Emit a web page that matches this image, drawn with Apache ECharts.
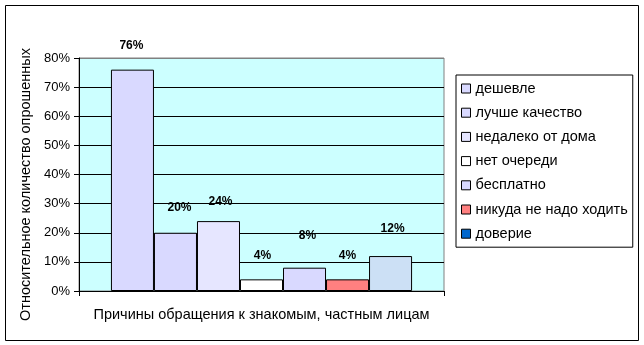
<!DOCTYPE html>
<html>
<head>
<meta charset="utf-8">
<script src="https://cdn.jsdelivr.net/npm/echarts@6/dist/echarts.min.js"></script>
<style>
html,body{margin:0;padding:0;background:#fff;}
#c{width:644px;height:345px;}
</style>
</head>
<body>
<div id="c"></div>
<script>
// Data
const categories = ['Причины обращения к знакомым, частным лицам'];
const seriesNames = ['дешевле', 'лучше качество', 'недалеко от дома', 'нет очереди', 'бесплатно', 'никуда не надо ходить', 'доверие'];
const seriesValues = [76, 20, 24, 4, 8, 4, 12];
const yTicks = [0, 10, 20, 30, 40, 50, 60, 70, 80];
const yAxisTitle = 'Относительное количество опрошенных';

// Styles
const barColors = ['#D9D9FF', '#D9D9FF', '#E6E6FF', '#FFFFFF', '#D9D9FF', '#FF8080', '#CCE0F5'];
const legendColors = ['#D9D9FF', '#D9D9FF', '#E6E6FF', '#FFFFFF', '#D9D9FF', '#FF8080', '#0066CC'];
const labelOffsets = [[-1, -18], [4, -19], [2, -13], [1, -18], [3, -26], [0, -18], [2, -21]];

const FONT = "'Liberation Sans', Arial, sans-serif";
const chart = echarts.init(document.getElementById('c'), null, {renderer: 'canvas'});

const splitColors = yTicks.map((t, i) => i === yTicks.length - 1 ? '#808080' : '#000000');

const option = {
  backgroundColor: '#ffffff',
  animation: false,
  textStyle: {fontFamily: FONT},
  graphic: [{
    type: 'rect', silent: true, z: 100,
    shape: {x: 5.5, y: 5.5, width: 633, height: 335},
    style: {fill: 'none', stroke: '#000', lineWidth: 1}
  }],
  grid: {
    left: 79, top: 58, width: 365, height: 233,
    show: true, backgroundColor: '#CCFFFF', borderColor: '#808080', borderWidth: 1
  },
  legend: {
    orient: 'vertical', left: 456, top: 75,
    backgroundColor: '#fff', borderColor: '#000', borderWidth: 1,
    padding: [6, 5, 6, 5],
    itemWidth: 9, itemHeight: 9, itemGap: 9.2,
    icon: 'rect',
    itemStyle: {borderColor: '#000', borderWidth: 1},
    textStyle: {fontFamily: FONT, fontSize: 14.5, color: '#000', lineHeight: 15},
    data: seriesNames.map((n, i) => ({name: n, itemStyle: {color: legendColors[i], borderColor: '#000', borderWidth: 1}}))
  },
  xAxis: {
    type: 'category', data: categories,
    axisLine: {lineStyle: {color: '#000', width: 1}},
    axisTick: {show: true, length: 5, lineStyle: {color: '#000'}},
    axisLabel: {show: false},
    name: categories[0], nameLocation: 'middle', nameGap: 16,
    nameTextStyle: {fontFamily: FONT, fontSize: 14.5, color: '#000'}
  },
  yAxis: {
    type: 'value', min: 0, max: 80, interval: 10,
    axisLine: {show: true, lineStyle: {color: '#000', width: 1}},
    axisTick: {show: true, length: 5, lineStyle: {color: '#000'}},
    axisLabel: {formatter: '{value}%', fontFamily: FONT, fontSize: 13, color: '#000', margin: 9},
    splitLine: {show: true, lineStyle: {color: splitColors, width: 1}},
    name: yAxisTitle, nameLocation: 'middle', nameGap: 41,
    nameTextStyle: {fontFamily: FONT, fontSize: 14.5, color: '#000', padding: [0, 20, 0, 0]}
  },
  series: seriesNames.map((n, i) => ({
    name: n, type: 'bar',
    data: [seriesValues[i]],
    barGap: '0%', barCategoryGap: '17.5%',
    itemStyle: {color: barColors[i], borderColor: '#000', borderWidth: 1},
    label: {
      show: true, position: 'top', distance: 0, offset: labelOffsets[i],
      formatter: '{c}%', fontFamily: FONT, fontSize: 12, fontWeight: 'bold', color: '#000'
    }
  }))
};
chart.setOption(option);
</script>
</body>
</html>
